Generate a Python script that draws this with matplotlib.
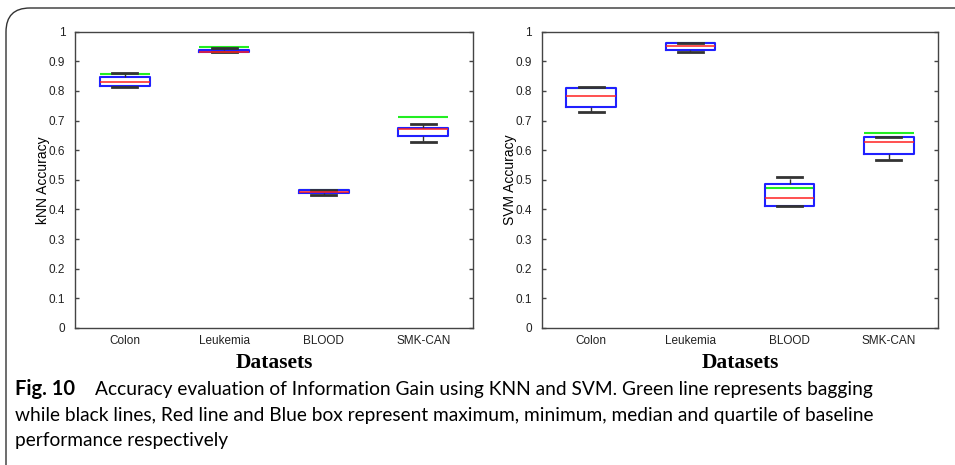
import matplotlib
matplotlib.use('Agg')
import matplotlib.pyplot as plt
from matplotlib.patches import FancyBboxPatch

cats = ['Colon', 'Leukemia', 'BLOOD', 'SMK-CAN']

# kNN: baseline box stats + bagging
knn_min = [0.812, 0.930, 0.448, 0.628]
knn_q1 = [0.816, 0.930, 0.455, 0.649]
knn_med = [0.829, 0.933, 0.460, 0.671]
knn_q3 = [0.848, 0.939, 0.465, 0.676]
knn_max = [0.860, 0.945, 0.465, 0.687]
knn_bag = [0.857, 0.949, 0.465, 0.713]

# SVM
svm_min = [0.729, 0.933, 0.413, 0.566]
svm_q1 = [0.745, 0.939, 0.413, 0.587]
svm_med = [0.782, 0.951, 0.439, 0.627]
svm_q3 = [0.809, 0.961, 0.485, 0.643]
svm_max = [0.813, 0.961, 0.511, 0.643]
svm_bag = [0.809, 0.961, 0.473, 0.658]

yticks = [0, 0.1, 0.2, 0.3, 0.4, 0.5, 0.6, 0.7, 0.8, 0.9, 1]
yticklabels = ['0', '0.1', '0.2', '0.3', '0.4', '0.5', '0.6', '0.7', '0.8', '0.9', '1']

W, H = 955, 465
fig = plt.figure(figsize=(W / 100, H / 100), dpi=100)


def panel(rect, lo, q1, med, q3, hi, bag, ylabel):
    ax = fig.add_axes(rect)
    stats = []
    for i in range(len(cats)):
        stats.append({'whislo': lo[i], 'q1': q1[i], 'med': med[i], 'q3': q3[i],
                      'whishi': hi[i], 'fliers': [], 'label': cats[i]})
    pos = list(range(1, len(cats) + 1))
    # bagging line (green) sits under the box
    ax.hlines(bag, [p - 0.25 for p in pos], [p + 0.25 for p in pos],
              colors='#22ee22', lw=1.5, zorder=1)
    ax.bxp(stats, positions=pos, widths=0.5, showfliers=False, capwidths=0.25,
           boxprops=dict(color='#2020ff', lw=1.5),
           medianprops=dict(color='#ff2020', lw=1.1),
           whiskerprops=dict(color='#333333', lw=1, ls='--'),
           capprops=dict(color='#333333', lw=2),
           zorder=2)
    ax.set_xlim(0.5, 4.5)
    ax.set_ylim(0, 1)
    ax.set_yticks(yticks)
    ax.set_yticklabels(yticklabels, fontsize=8.5, family='Liberation Sans', color='#222222')
    ax.set_xticks(pos)
    ax.set_xticklabels(cats, fontsize=8.5, family='Liberation Sans', color='#222222')
    ax.tick_params(axis='y', direction='in', length=3, right=True, width=1, color='#444444', pad=7)
    ax.tick_params(axis='x', length=0, pad=5)
    for s in ax.spines.values():
        s.set_color('#444444')
        s.set_linewidth(1)
    ax.set_ylabel(ylabel, fontsize=10, family='Liberation Sans', labelpad=-1)
    ax.set_xlabel('Datasets', fontsize=15.5, family='Liberation Serif', weight='bold', labelpad=4)
    return ax


panel([75 / W, 1 - 328 / H, 398 / W, 296.3 / H],
      knn_min, knn_q1, knn_med, knn_q3, knn_max, knn_bag, 'kNN Accuracy')
panel([541.7 / W, 1 - 328 / H, 396.6 / W, 296.3 / H],
      svm_min, svm_q1, svm_med, svm_q3, svm_max, svm_bag, 'SVM Accuracy')

# caption
cf = 'Lato'
fs = 13.8
fig.text(15 / W, 1 - 395 / H, 'Fig. 10', fontsize=14.5, family=cf, weight='bold', va='baseline')
fig.text(95 / W, 1 - 395 / H,
         'Accuracy evaluation of Information Gain using KNN and SVM. Green line represents bagging',
         fontsize=fs, family=cf, va='baseline')
fig.text(15 / W, 1 - 421 / H,
         'while black lines, Red line and Blue box represent maximum, minimum, median and quartile of baseline',
         fontsize=fs, family=cf, va='baseline')
fig.text(15 / W, 1 - 446 / H, 'performance respectively',
         fontsize=fs, family=cf, va='baseline')

# rounded frame, open to the right and bottom
frame = FancyBboxPatch((6 / W, -0.2), 1.2, 1 - 8 / H + 0.2,
                       boxstyle='round,pad=0,rounding_size=0.025',
                       transform=fig.transFigure, fill=False,
                       ec='#333333', lw=1, mutation_aspect=W / H)
fig.patches.append(frame)

fig.savefig('out.png', dpi=100)
